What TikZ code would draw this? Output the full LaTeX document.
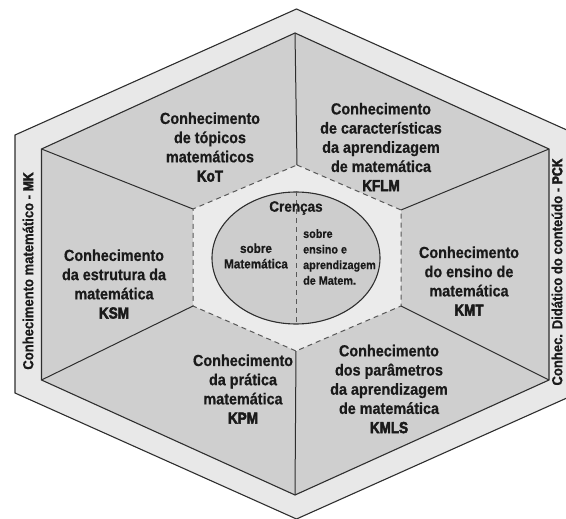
\documentclass[tikz,border=0pt]{standalone}
\usetikzlibrary{shapes.geometric}
\usepackage{fontspec}
\setmainfont{Liberation Sans}[FakeStretch=0.9, BoldFeatures={FakeBold=0.6}]
\newfontfamily\acrfont{Liberation Sans}[FakeStretch=0.84, BoldFeatures={FakeBold=3}]
\definecolor{band}{HTML}{E8E8E8}
\definecolor{sector}{HTML}{CFCFCF}
\definecolor{core}{HTML}{EBEBEB}
\definecolor{belief}{HTML}{CDCDCD}
\definecolor{edge}{HTML}{2E2E2E}
\definecolor{ink}{HTML}{1A1A1A}
\tikzset{
  lbl/.style={align=center, inner sep=0pt, text=ink, font=\fontsize{16}{19.2}\selectfont\bfseries},
  side/.style={inner sep=0pt, text=ink, rotate=90, font=\fontsize{14.5}{17}\selectfont\bfseries},
  inlbl/.style={inner sep=0pt, text=ink, font=\fontsize{13}{15.5}\selectfont\bfseries},
  hexline/.style={draw=edge, line width=1.1pt, line join=miter},
  dashline/.style={draw=edge!80, line width=1pt, dash pattern=on 5pt off 4pt},
}
\begin{document}
\begin{tikzpicture}[x=1pt,y=-1pt]
\useasboundingbox (0,0) rectangle (566,519);
\begin{scope}
\clip (0,0) rectangle (566,519);
% outer hexagon
\coordinate (O1) at (296.5,9);
\coordinate (O2) at (578,135);
\coordinate (O3) at (578,393);
\coordinate (O4) at (296.5,519);
\coordinate (O5) at (15,393);
\coordinate (O6) at (15,135);
% inner hexagon
\coordinate (I1) at (295,33);
\coordinate (I2) at (549,149);
\coordinate (I3) at (549,380);
\coordinate (I4) at (295,495);
\coordinate (I5) at (41.5,380);
\coordinate (I6) at (41.5,149);
% core hexagon
\coordinate (S1) at (297,165);
\coordinate (S2) at (401,210);
\coordinate (S3) at (401,306);
\coordinate (S4) at (296,351);
\coordinate (S5) at (193,306);
\coordinate (S6) at (193,209);

\path[fill=band, hexline] (O1) -- (O2) -- (O3) -- (O4) -- (O5) -- (O6) -- cycle;
\path[fill=sector, hexline] (I1) -- (I2) -- (I3) -- (I4) -- (I5) -- (I6) -- cycle;
\path[fill=core] (S1) -- (S2) -- (S3) -- (S4) -- (S5) -- (S6) -- cycle;
\draw[dashline] (S1) -- (S2) -- (S3) -- (S4) -- (S5) -- (S6) -- cycle;
\foreach \k in {1,...,6} {\draw[draw=edge, line width=1pt] (I\k) -- (S\k);}
\end{scope}

% beliefs ellipse
\node[draw=edge, line width=1.1pt, fill=belief, ellipse, minimum width=168pt, minimum height=132pt, inner sep=0pt] (bel) at (296,258) {};
\draw[dashline] (bel.north) -- (bel.south);

\node[lbl] (kot) at (210,147) {Conhecimento\\de tópicos\\matemáticos\\{\acrfont\bfseries KoT}};
\node[lbl] (kflm) at (381,147) {Conhecimento\\de características\\da aprendizagem\\de matemática\\{\acrfont\bfseries KFLM}};
\node[lbl] (ksm) at (114,284) {Conhecimento\\da estrutura da\\matemática\\{\acrfont\bfseries KSM}};
\node[lbl] (kmt) at (469,281) {Conhecimento\\do ensino de\\matemática\\{\acrfont\bfseries KMT}};
\node[lbl] (kpm) at (243,389) {Conhecimento\\da prática\\matemática\\{\acrfont\bfseries KPM}};
\node[lbl] (kmls) at (389,389) {Conhecimento\\dos parâmetros\\da aprendizagem\\de matemática\\{\acrfont\bfseries KMLS}};

\node[inlbl, font=\fontsize{15}{18}\selectfont\bfseries] (cren) at (296,208) {Crenças};
\node[inlbl, align=center] (sobm) at (256,256) {sobre\\Matemática};
\node[inlbl, align=left, anchor=west, font=\fontsize{12}{15.6}\selectfont\bfseries] (sobe) at (303,257) {sobre\\ensino e\\aprendizagem\\de Matem.};

\node[side] (mk) at (28,271) {Conhecimento matemático - {\acrfont\bfseries MK}};
\node[side] (pck) at (557,272) {Conhec. Didático do conteúdo - {\acrfont\bfseries PCK}};
\end{tikzpicture}
\end{document}
